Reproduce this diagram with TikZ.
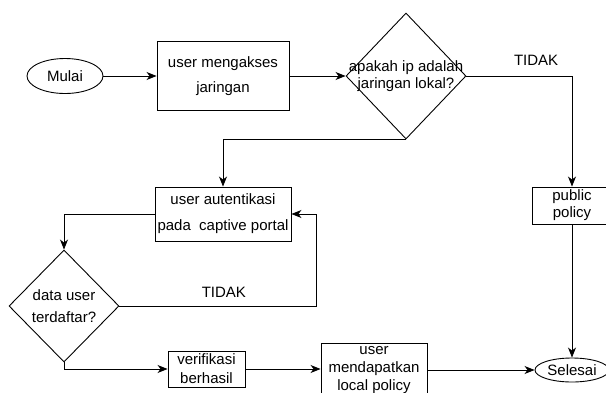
\documentclass[tikz,border=0pt]{standalone}
\usepackage{fontspec}
\setmainfont{Liberation Sans}
\usetikzlibrary{arrows.meta,shapes.geometric}

\begin{document}
\begin{tikzpicture}[x=1pt, y=-1pt, arrows={-Stealth[length=10pt,width=8pt,inset=3pt]}, line width=0.9pt,
	font=\fontsize{15}{17}\selectfont,
	kotak/.style={draw, rectangle, align=center, inner sep=0pt},
	belah/.style={draw, diamond, inner sep=0pt},
	oval/.style={draw, ellipse, inner sep=0pt}]
	\clip (0,0) rectangle (606,392);

	\node[oval, minimum width=76pt, minimum height=35pt] (mulai) at (65,76) {Mulai};
	\node[kotak, minimum width=132pt, minimum height=69pt] (akses) at (223,76) {user mengakses\\[8pt]jaringan};
	\node[belah, minimum width=120pt, minimum height=126pt, label={[align=center]center:apakah ip adalah\\jaringan lokal?}] (tanya) at (406,76) {};
	\node[kotak, minimum width=80pt, minimum height=37pt] (publik) at (572,205.5) {public\\policy};
	\node[kotak, minimum width=136pt, minimum height=54pt] (autent) at (223,214) {user autentikasi\\[9pt]pada~~captive portal};
	\node[belah, minimum width=110pt, minimum height=112pt, label={[align=center]center:data user\\[5pt]terdaftar?}] (data) at (64,306) {};
	\node[kotak, minimum width=77pt, minimum height=36pt] (verif) at (206.5,369) {verifikasi\\[2pt]berhasil};
	\node[kotak, minimum width=106pt, minimum height=54pt] (lokal) at (374,370) {user\\[1pt]mendapatkan\\[1pt]local policy};
	\node[oval, minimum width=74pt, minimum height=24pt] (selesai) at (572,370) {Selesai};

	\draw (mulai) -- (akses);
	\draw (akses) -- (tanya);
	\draw (tanya.east) -| node[pos=0.33, above=7pt] {TIDAK} (publik.north);
	\draw (tanya.south) -| (autent.north);
	\draw (publik) -- (selesai);
	\draw (autent.west) -| (data.north);
	\draw (data.east) -- node[pos=0.53, above=5pt] {TIDAK} ++(197,0) |- (autent.east);
	\draw (data.south) |- (verif.west);
	\draw (verif.east) -- (verif.east -| lokal.west);
	\draw (lokal) -- (selesai);
\end{tikzpicture}
\end{document}
